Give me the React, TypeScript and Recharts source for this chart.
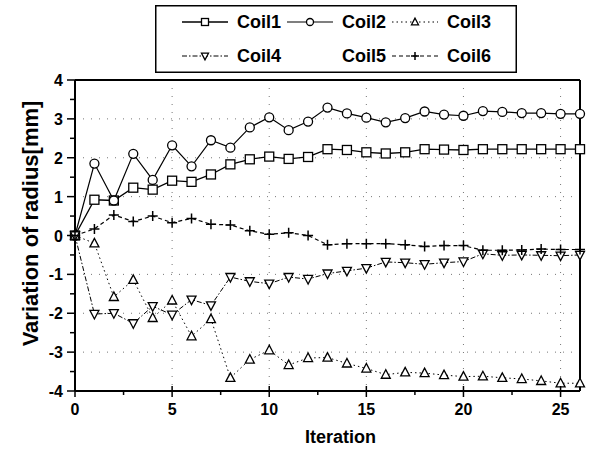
import { LineChart, Line, XAxis, YAxis, CartesianGrid, ReferenceLine, Legend, Label } from "recharts";

const FONT = "'Liberation Sans', Arial, sans-serif";

// iteration index (x) and radius variation per coil (mm)
const iterations = [0, 1, 2, 3, 4, 5, 6, 7, 8, 9, 10, 11, 12, 13, 14, 15, 16, 17, 18, 19, 20, 21, 22, 23, 24, 25, 26];
const coil1 = [0, 0.92, 0.9, 1.23, 1.18, 1.41, 1.38, 1.57, 1.83, 1.96, 2.03, 1.97, 2.02, 2.22, 2.2, 2.14, 2.11, 2.14, 2.22, 2.21, 2.2, 2.22, 2.22, 2.22, 2.22, 2.22, 2.22];
const coil2 = [0, 1.85, 0.9, 2.1, 1.43, 2.32, 1.78, 2.45, 2.26, 2.78, 3.04, 2.71, 2.93, 3.29, 3.14, 3.03, 2.91, 3.02, 3.19, 3.11, 3.08, 3.2, 3.18, 3.15, 3.15, 3.13, 3.13];
const coil3 = [0, -0.2, -1.58, -1.14, -2.12, -1.67, -2.59, -2.15, -3.66, -3.19, -2.95, -3.33, -3.15, -3.14, -3.29, -3.42, -3.58, -3.52, -3.54, -3.59, -3.63, -3.62, -3.66, -3.69, -3.74, -3.8, -3.8];
const coil4 = [0, -2.02, -2.0, -2.26, -1.82, -2.04, -1.65, -1.8, -1.07, -1.18, -1.24, -1.07, -1.12, -0.98, -0.91, -0.84, -0.68, -0.7, -0.74, -0.7, -0.67, -0.47, -0.51, -0.5, -0.51, -0.52, -0.5];
const coil6 = [0, 0.17, 0.53, 0.36, 0.5, 0.33, 0.44, 0.29, 0.27, 0.12, 0.03, 0.07, 0.0, -0.24, -0.21, -0.21, -0.21, -0.24, -0.28, -0.26, -0.26, -0.38, -0.38, -0.37, -0.35, -0.36, -0.36];

const xTicks = [0, 2.5, 5, 7.5, 10, 12.5, 15, 17.5, 20, 22.5, 25];
const yTicks = [-4, -3.5, -3, -2.5, -2, -1.5, -1, -0.5, 0, 0.5, 1, 1.5, 2, 2.5, 3, 3.5, 4];
const gridX = [5, 10, 15, 20, 25];
const gridY = [-3, -2, -1, 1, 2, 3];

type MarkerKind = "square" | "circle" | "up" | "down" | "plus" | "none";

interface SeriesDef {
    key: string;
    name: string;
    values: number[] | null;
    marker: MarkerKind;
    dash?: string;
    width: number;
}

// Coil5 has no plotted data, only its legend entry
const SERIES: SeriesDef[] = [
    { key: "coil1", name: "Coil1", values: coil1, marker: "square", width: 1.3 },
    { key: "coil2", name: "Coil2", values: coil2, marker: "circle", width: 1.2 },
    { key: "coil3", name: "Coil3", values: coil3, marker: "up", dash: "1.5 3", width: 1 },
    { key: "coil4", name: "Coil4", values: coil4, marker: "down", dash: "5 2 1.5 2", width: 1 },
    { key: "coil5", name: "Coil5", values: null, marker: "none", width: 1 },
    { key: "coil6", name: "Coil6", values: coil6, marker: "plus", dash: "4 3", width: 1.2 },
];

const rows = iterations.map((it, i) => {
    const row: Record<string, number> = { it };
    SERIES.forEach((s) => {
        if (s.values) row[s.key] = s.values[i];
    });
    return row;
});

function Marker({ kind, x, y, s }: { kind: MarkerKind; x: number; y: number; s: number }) {
    const common = { fill: "#fff", stroke: "#000", strokeWidth: 1.3 };
    switch (kind) {
        case "square":
            return <rect x={x - s / 2} y={y - s / 2} width={s} height={s} {...common} />;
        case "circle":
            return <circle cx={x} cy={y} r={s / 2} {...common} />;
        case "up":
            return <polygon points={`${x},${y - s * 0.55} ${x - s / 2},${y + s * 0.4} ${x + s / 2},${y + s * 0.4}`} {...common} />;
        case "down":
            return <polygon points={`${x},${y + s * 0.55} ${x - s / 2},${y - s * 0.4} ${x + s / 2},${y - s * 0.4}`} {...common} />;
        case "plus":
            return <path d={`M${x - s / 2},${y}H${x + s / 2}M${x},${y - s / 2}V${y + s / 2}`} stroke="#000" strokeWidth={1.5} fill="none" />;
        default:
            return null;
    }
}

const makeDot = (kind: MarkerKind) => (props: any) => {
    const { cx, cy, index } = props;
    if (cx == null || cy == null) return <g key={`d-${index}`} />;
    return (
        <g key={`d-${index}`}>
            <Marker kind={kind} x={cx} y={cy} s={kind === "plus" ? 10 : 9} />
        </g>
    );
};

function XTick({ x, y, payload }: any) {
    const major = payload.value % 5 === 0;
    return (
        <g>
            <line x1={x} x2={x} y1={major ? y - 5 : y} y2={y + (major ? 6 : 4)} stroke="#000" strokeWidth={1.5} />
            {major && (
                <text x={x} y={y + 24} textAnchor="middle" fontFamily={FONT} fontWeight="bold" fontSize={16} fill="#000">
                    {payload.value}
                </text>
            )}
        </g>
    );
}

function YTick({ x, y, payload }: any) {
    const major = Number.isInteger(payload.value);
    return (
        <g>
            <line x1={x - (major ? 8 : 5)} x2={x} y1={y} y2={y} stroke="#000" strokeWidth={1.5} />
            {major && (
                <text x={x - 12} y={y + 6} textAnchor="end" fontFamily={FONT} fontWeight="bold" fontSize={16} fill="#000">
                    {payload.value}
                </text>
            )}
        </g>
    );
}

function LegendBox() {
    const cols = [82, 187, 292];
    const rowsY = [17, 51];
    return (
        <svg width={362} height={68}>
            <rect x={0.75} y={0.75} width={360.5} height={66.5} fill="#fff" stroke="#000" strokeWidth={1.5} />
            {SERIES.map((s, i) => {
                const tx = cols[i % 3];
                const ty = rowsY[Math.floor(i / 3)];
                const mid = tx - 32;
                return (
                    <g key={s.key}>
                        {s.values && (
                            <>
                                <line x1={tx - 55} x2={tx - 9} y1={ty} y2={ty} stroke="#000" strokeWidth={s.width} strokeDasharray={s.dash} />
                                <Marker kind={s.marker} x={mid} y={ty} s={s.marker === "plus" ? 8 : 7} />
                            </>
                        )}
                        <text x={tx} y={ty + 6} fontFamily={FONT} fontWeight="bold" fontSize={18} fill="#000">
                            {s.name}
                        </text>
                    </g>
                );
            })}
        </svg>
    );
}

const YTitle = ({ viewBox }: any) => {
    const cx = (viewBox?.x ?? 0) + 38;
    const cy = (viewBox?.y ?? 80) + (viewBox?.height ?? 311) / 2 - 12;
    return (
        <text transform={`translate(${cx},${cy}) rotate(-90)`} textAnchor="middle" fontFamily={FONT} fontWeight="bold" fontSize={22} fill="#000">
            Variation of radius[mm]
        </text>
    );
};

const XTitle = ({ viewBox }: any) => {
    const cx = (viewBox?.x ?? 75) + (viewBox?.width ?? 505) / 2 + 13;
    const cy = (viewBox?.y ?? 391) + 52;
    return (
        <text x={cx} y={cy} textAnchor="middle" fontFamily={FONT} fontWeight="bold" fontSize={18} fill="#000">
            Iteration
        </text>
    );
};

export default function App() {
    return (
        <div style={{ position: "absolute", left: 0, top: 0, width: 590, height: 449, background: "#fff" }}>
            <LineChart width={590} height={449} data={rows} margin={{ top: 80, right: 10, bottom: 0, left: 0 }}>
                <CartesianGrid horizontalValues={gridY} verticalValues={gridX} stroke="#777" strokeDasharray="1 7" />
                <XAxis
                    dataKey="it"
                    type="number"
                    domain={[0, 26]}
                    ticks={xTicks}
                    interval={0}
                    height={58}
                    tickSize={0}
                    tickMargin={0}
                    tickLine={false}
                    tick={<XTick />}
                    axisLine={{ stroke: "#000", strokeWidth: 2 }}
                >
                    <Label content={<XTitle />} />
                </XAxis>
                <YAxis
                    type="number"
                    domain={[-4, 4]}
                    ticks={yTicks}
                    interval={0}
                    width={75}
                    tickSize={0}
                    tickMargin={0}
                    tickLine={false}
                    tick={<YTick />}
                    axisLine={{ stroke: "#000", strokeWidth: 2 }}
                >
                    <Label content={<YTitle />} />
                </YAxis>
                <ReferenceLine y={4} stroke="#000" strokeWidth={2} />
                <ReferenceLine x={26} stroke="#000" strokeWidth={2} />
                {SERIES.filter((s) => s.values).map((s) => (
                    <Line
                        key={s.key}
                        dataKey={s.key}
                        name={s.name}
                        stroke="#000"
                        strokeWidth={s.width}
                        strokeDasharray={s.dash}
                        dot={makeDot(s.marker)}
                        activeDot={false}
                        isAnimationActive={false}
                    />
                ))}
                <Legend
                    layout="vertical"
                    align="center"
                    verticalAlign="middle"
                    wrapperStyle={{ left: 155, top: 5, width: 362, height: 68 }}
                    content={() => <LegendBox />}
                />
            </LineChart>
        </div>
    );
}
